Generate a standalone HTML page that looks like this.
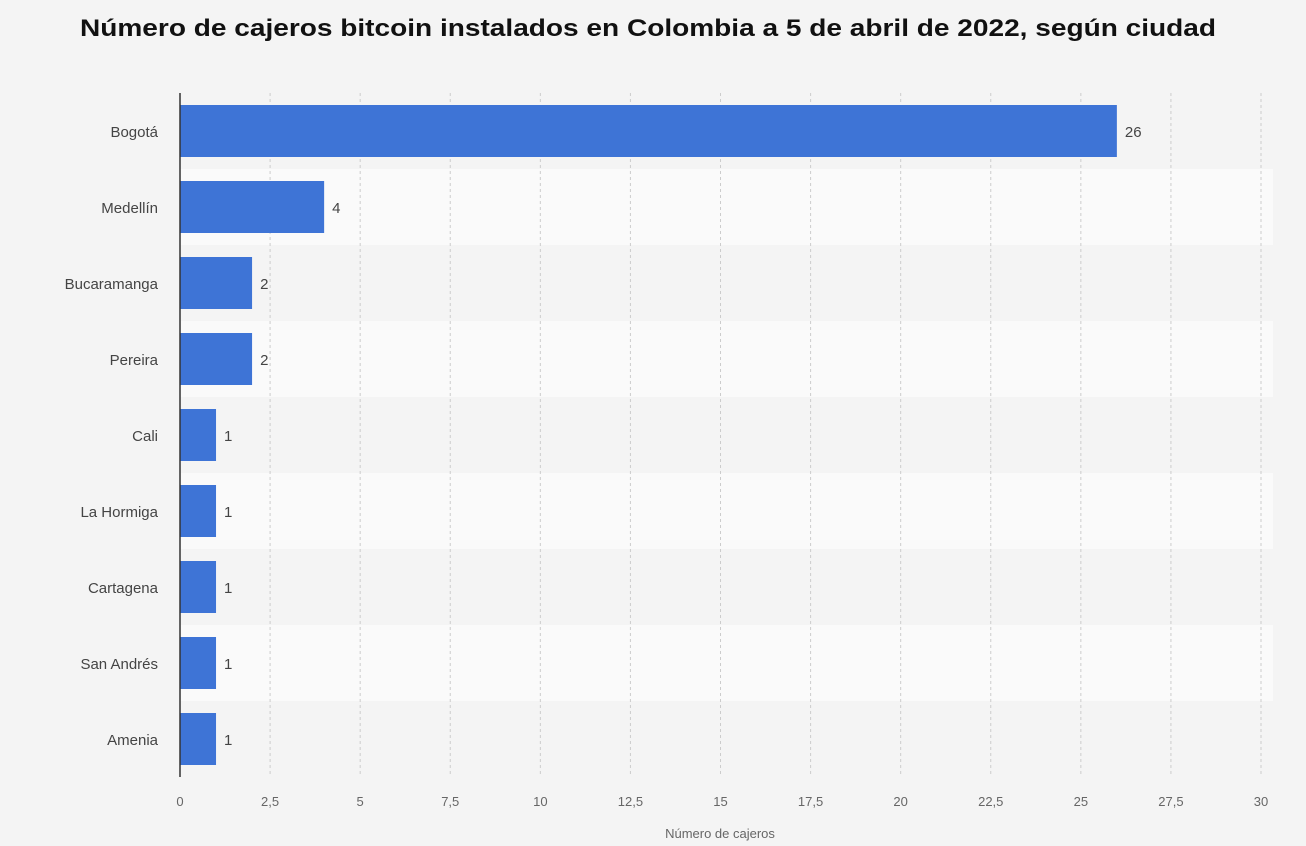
<!DOCTYPE html>
<html><head><meta charset="utf-8"><style>
body{margin:0;background:#f4f4f4;font-family:"Liberation Sans",sans-serif;}
svg{display:block}
</style></head><body>
<svg id="c" width="1306" height="846">
<text x="648" y="36" text-anchor="middle" font-size="24" font-weight="bold" fill="#111" textLength="1136" lengthAdjust="spacingAndGlyphs">Número de cajeros bitcoin instalados en Colombia a 5 de abril de 2022, según ciudad</text>
<g id="bands"></g><g id="grid"></g><g id="bars"></g><g id="labels"></g>
<line x1="180" y1="93" x2="180" y2="777" stroke="#333" stroke-width="1.5"/>
<text x="720" y="838" text-anchor="middle" font-size="13" fill="#666">Número de cajeros</text>
</svg>
<script>
const categories=["Bogotá","Medellín","Bucaramanga","Pereira","Cali","La Hormiga","Cartagena","San Andrés","Amenia"];
const values=[26,4,2,2,1,1,1,1,1];
const ticks=[0,2.5,5,7.5,10,12.5,15,17.5,20,22.5,25,27.5,30];
const tickLabels=["0","2,5","5","7,5","10","12,5","15","17,5","20","22,5","25","27,5","30"];
const NS="http://www.w3.org/2000/svg";
const plotLeft=180,plotRight=1261,plotTop=93,rowH=76,maxV=30;
const xs=v=>plotLeft+v/maxV*(plotRight-plotLeft);
const ys=i=>plotTop+i*rowH;
function mk(t,a,p){const e=document.createElementNS(NS,t);for(const k in a)e.setAttribute(k,a[k]);document.getElementById(p).appendChild(e);return e;}
categories.forEach((c,i)=>{
 const b=mk("rect",{x:plotLeft,y:ys(i),width:plotRight-plotLeft+12,height:rowH,fill:i%2?"#fafafa":"#f4f4f4"},"bands");
 
 
});
ticks.forEach((t,i)=>{
 if(i>0){const l=mk("line",{x1:xs(t),x2:xs(t),y1:plotTop,y2:plotTop+rowH*categories.length,stroke:"#ccc","stroke-dasharray":"3,3"},"grid");
 
 }
 const tx=mk("text",{x:xs(t),y:806,"text-anchor":"middle","font-size":"13",fill:"#666"},"labels");
 tx.textContent=tickLabels[i];
 
 
});
categories.forEach((c,i)=>{
 const y=ys(i)+12;
 const r=mk("rect",{x:plotLeft,y:y,width:xs(values[i])-plotLeft,height:52,fill:"#3e74d6"},"bars");
 
 
 const l=mk("text",{x:158,y:y+32,"text-anchor":"end","font-size":"15",fill:"#444"},"labels");
 l.textContent=c;
 
 
 const v=mk("text",{x:xs(values[i])+8,y:y+32,"font-size":"15",fill:"#444"},"labels");
 v.textContent=values[i];
 
 
});
</script>
</body></html>
